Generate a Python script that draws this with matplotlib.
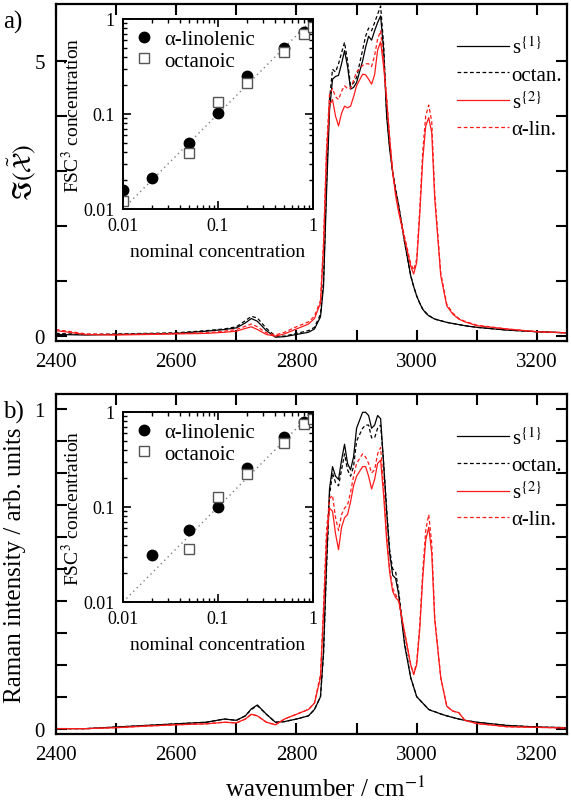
import numpy as np
import matplotlib
matplotlib.use("Agg")
import matplotlib.pyplot as plt
from matplotlib.ticker import NullFormatter, LogLocator

plt.rcParams['font.family'] = ['Liberation Serif', 'DejaVu Serif']
plt.rcParams['mathtext.fontset'] = 'stix'

# --- espectros: rejilla comun de numeros de onda (cm^-1) ---
wn = [2400, 2450, 2500, 2550, 2600, 2650, 2680, 2700, 2715, 2725,
      2735, 2750, 2765, 2780, 2800, 2820, 2830, 2840, 2845, 2850,
      2855, 2860, 2865, 2870, 2875, 2880, 2885, 2890, 2895, 2900,
      2910, 2915, 2920, 2925, 2930, 2935, 2940, 2945, 2950, 2955,
      2960, 2965, 2970, 2980, 2990, 2995, 3000, 3005, 3010, 3015,
      3020, 3025, 3030, 3040, 3050, 3060, 3070, 3080, 3100, 3150,
      3200, 3250]

# panel a)
s1_a = [0.03, 0.02, 0.03, 0.04, 0.05, 0.09, 0.12, 0.15, 0.24, 0.32,
        0.27, 0.10, -0.02, -0.01, 0.03, 0.07, 0.13, 0.35, 0.9, 2.6,
        4.1, 4.67, 4.72, 4.74, 4.95, 5.19, 4.9, 4.49, 4.52, 4.61,
        5.0, 5.25, 5.45, 5.38, 5.55, 5.7, 5.82, 5.2, 4.0, 3.4,
        2.98, 2.65, 2.37, 1.70, 1.10, 0.9, 0.73, 0.6, 0.49, 0.42,
        0.37, 0.34, 0.31, 0.28, 0.25, 0.23, 0.21, 0.19, 0.16, 0.11,
        0.08, 0.06]
oct_a = [0.05, 0.03, 0.04, 0.05, 0.06, 0.10, 0.13, 0.17, 0.28, 0.36,
         0.33, 0.14, 0.0, 0.0, 0.05, 0.10, 0.16, 0.4, 1.0, 2.8,
         4.3, 4.85, 4.8, 4.95, 5.15, 5.34, 5.0, 4.55, 4.6, 4.7,
         5.2, 5.45, 5.6, 5.55, 5.7, 5.85, 6.0, 5.3, 4.05, 3.45,
         3.0, 2.67, 2.38, 1.70, 1.10, 0.9, 0.73, 0.6, 0.49, 0.43,
         0.38, 0.34, 0.31, 0.28, 0.25, 0.23, 0.21, 0.19, 0.16, 0.11,
         0.08, 0.06]
s2_a = [0.10, 0.03, 0.02, 0.03, 0.04, 0.05, 0.07, 0.09, 0.14, 0.17,
        0.12, 0.03, 0.0, 0.04, 0.13, 0.22, 0.32, 0.6, 1.6, 3.3,
        4.2, 4.3, 4.0, 3.82, 4.05, 4.18, 4.15, 4.18, 4.35, 4.55,
        4.76, 4.75, 4.67, 4.58, 4.75, 5.2, 5.35, 4.9, 4.3, 3.6,
        2.98, 2.55, 2.25, 1.76, 1.27, 1.13, 1.34, 2.2, 3.2, 3.82,
        3.97, 3.7, 2.5, 1.1, 0.55, 0.4, 0.31, 0.26, 0.19, 0.13,
        0.08, 0.06]
lin_a = [0.12, 0.04, 0.03, 0.04, 0.05, 0.06, 0.09, 0.12, 0.18, 0.22,
         0.17, 0.06, 0.02, 0.07, 0.17, 0.26, 0.36, 0.65, 1.7, 3.4,
         4.4, 4.5, 4.35, 4.3, 4.45, 4.55, 4.5, 4.5, 4.65, 4.8,
         4.92, 4.95, 4.95, 4.9, 5.1, 5.4, 5.55, 5.0, 4.35, 3.6,
         3.0, 2.6, 2.3, 1.8, 1.32, 1.2, 1.4, 2.3, 3.35, 4.0,
         4.2, 3.9, 2.6, 1.15, 0.58, 0.42, 0.32, 0.27, 0.2, 0.13,
         0.08, 0.06]

# panel b)
s1_b = [0.0, 0.0, 0.005, 0.01, 0.015, 0.02, 0.03, 0.026, 0.04, 0.062,
        0.074, 0.045, 0.02, 0.022, 0.03, 0.04, 0.06, 0.10, 0.24, 0.52,
        0.75, 0.82, 0.79, 0.78, 0.84, 0.89, 0.83, 0.81, 0.85, 0.94,
        0.99, 0.99, 0.98, 0.94, 0.95, 0.98, 0.97, 0.83, 0.68, 0.55,
        0.48, 0.47, 0.42, 0.26, 0.16, 0.13, 0.10, 0.09, 0.08, 0.07,
        0.06, 0.056, 0.053, 0.046, 0.04, 0.035, 0.03, 0.026, 0.02, 0.01,
        0.005, 0.003]
oct_b = [0.0, 0.0, 0.005, 0.01, 0.015, 0.02, 0.03, 0.026, 0.04, 0.06,
         0.072, 0.045, 0.02, 0.022, 0.03, 0.04, 0.06, 0.10, 0.23, 0.50,
         0.73, 0.80, 0.77, 0.76, 0.81, 0.86, 0.81, 0.79, 0.82, 0.90,
         0.94, 0.95, 0.95, 0.91, 0.91, 0.94, 0.95, 0.83, 0.69, 0.56,
         0.50, 0.49, 0.43, 0.27, 0.16, 0.13, 0.10, 0.09, 0.08, 0.07,
         0.06, 0.056, 0.053, 0.046, 0.04, 0.035, 0.03, 0.026, 0.02, 0.01,
         0.005, 0.003]
s2_b = [0.0, 0.0, 0.003, 0.008, 0.012, 0.015, 0.02, 0.018, 0.03, 0.045,
        0.04, 0.02, 0.012, 0.03, 0.045, 0.06, 0.08, 0.16, 0.36, 0.59,
        0.69, 0.68, 0.61, 0.56, 0.63, 0.66, 0.67, 0.71, 0.76, 0.79,
        0.82, 0.82, 0.79, 0.75, 0.78, 0.83, 0.84, 0.73, 0.59, 0.49,
        0.43, 0.41, 0.40, 0.30, 0.20, 0.17, 0.20, 0.31, 0.47, 0.59,
        0.63, 0.55, 0.34, 0.16, 0.07, 0.055, 0.05, 0.026, 0.016, 0.006,
        0.004, 0.002]
lin_b = [0.0, 0.0, 0.003, 0.008, 0.012, 0.015, 0.02, 0.018, 0.03, 0.045,
         0.04, 0.02, 0.012, 0.03, 0.045, 0.06, 0.08, 0.17, 0.38, 0.62,
         0.72, 0.73, 0.66, 0.62, 0.67, 0.69, 0.70, 0.74, 0.79, 0.83,
         0.86, 0.85, 0.83, 0.80, 0.81, 0.86, 0.88, 0.76, 0.61, 0.50,
         0.44, 0.42, 0.40, 0.30, 0.20, 0.17, 0.21, 0.32, 0.49, 0.62,
         0.67, 0.58, 0.35, 0.16, 0.07, 0.055, 0.05, 0.026, 0.016, 0.006,
         0.004, 0.002]

# --- insets: concentracion nominal vs FSC^3 ---
lin_x_a = [0.01, 0.02, 0.05, 0.1, 0.2, 0.5, 0.8, 1.0]
lin_y_a = [0.016, 0.021, 0.049, 0.102, 0.25, 0.49, 0.73, 0.97]
oct_x_a = [0.01, 0.05, 0.1, 0.2, 0.5, 0.8, 1.0]
oct_y_a = [0.012, 0.039, 0.133, 0.21, 0.45, 0.70, 0.82]

lin_x_b = [0.02, 0.05, 0.1, 0.2, 0.5, 0.8, 1.0]
lin_y_b = [0.031, 0.057, 0.10, 0.26, 0.55, 0.79, 0.95]
oct_x_b = [0.05, 0.1, 0.2, 0.5, 0.8, 1.0]
oct_y_b = [0.036, 0.126, 0.22, 0.47, 0.75, 0.85]

diag = [0.01, 1.0]

labels = [r's$^{\{1\}}$', 'octan.', r's$^{\{2\}}$', 'α-lin.']
rojo = '#ff1a1a'


def panel(ax, s1, oc, s2, li):
    ax.plot(wn, s1, color='black', lw=0.9, label=labels[0])
    ax.plot(wn, oc, color='black', lw=0.9, ls=(0, (3, 2)), label=labels[1])
    ax.plot(wn, s2, color=rojo, lw=0.9, label=labels[2])
    ax.plot(wn, li, color=rojo, lw=0.9, ls=(0, (3, 2)), label=labels[3])
    ax.set_xlim(2400, 3250)
    ax.set_xticks(np.arange(2400, 3300, 100))
    ax.set_xticklabels(['2400', '', '2600', '', '2800', '', '3000', '', '3200'])
    ax.tick_params(direction='in', top=True, right=True, length=8, width=1.5,
                   labelsize=15, pad=8)
    for sp in ax.spines.values():
        sp.set_linewidth(1.6)
    ax.legend(loc='upper right', bbox_to_anchor=(1.015, 0.94), frameon=False,
              fontsize=15, handlelength=2.5, handletextpad=0.1,
              labelspacing=0.32, borderaxespad=0.2)


def inset(ax, lx, ly, ox, oy):
    ax.plot(diag, diag, color='gray', lw=1, ls=(0, (1, 2.5)))
    ax.plot(lx, ly, 'o', color='black', ms=7.5, label='α-linolenic')
    ax.plot(ox, oy, 's', mfc='white', mec='#555555', mew=1, ms=6.5,
            label='octanoic')
    ax.set_xscale('log')
    ax.set_yscale('log')
    ax.set_xlim(0.01, 1)
    ax.set_ylim(0.01, 1)
    ax.set_xticks([0.01, 0.1, 1])
    ax.set_xticklabels(['0.01', '0.1', '1'])
    ax.set_yticks([0.01, 0.1, 1])
    ax.set_yticklabels(['0.01', '0.1', '1'])
    ax.xaxis.set_minor_locator(LogLocator(subs=np.arange(2, 10)))
    ax.yaxis.set_minor_locator(LogLocator(subs=np.arange(2, 10)))
    ax.xaxis.set_minor_formatter(NullFormatter())
    ax.yaxis.set_minor_formatter(NullFormatter())
    ax.tick_params(which='both', direction='in', top=True, right=True,
                   labelsize=13)
    ax.tick_params(which='major', length=6, width=1.2, pad=6)
    ax.tick_params(which='minor', length=3, width=1)
    for sp in ax.spines.values():
        sp.set_linewidth(1.4)
    ax.set_xlabel('nominal concentration', fontsize=14, labelpad=6)
    ax.set_ylabel(r'FSC$^3$ concentration', fontsize=14, labelpad=0)
    ax.legend(loc='upper left', frameon=False, fontsize=15, handlelength=1.0,
              handletextpad=0.5, labelspacing=0.1, borderaxespad=0.2,
              borderpad=0.3)


fig = plt.figure(figsize=(5.71, 8.03), dpi=100)

ax_a = fig.add_axes([0.098, 0.574, 0.895, 0.42])
panel(ax_a, s1_a, oct_a, s2_a, lin_a)
ax_a.set_ylim(-0.09, 6.04)
ax_a.set_yticks(np.arange(0, 6, 1))
ax_a.set_yticklabels(['0', '', '', '', '', '5'])

ax_b = fig.add_axes([0.098, 0.085, 0.895, 0.423])
panel(ax_b, s1_b, oct_b, s2_b, lin_b)
ax_b.set_ylim(-0.016, 1.047)
ax_b.set_yticks(np.arange(0, 1.05, 0.1))
ax_b.set_yticklabels(['0'] + [''] * 9 + ['1'])

# etiquetas de ejes colocadas a mano
fig.text(22 / 571, 1 - 173 / 803, r'$\Im(\tilde{\mathcal{X}})$', fontsize=19,
         rotation=90, ha='center', va='center')
fig.text(15 / 571, 1 - 565 / 803, 'Raman intensity / arb. units', fontsize=18,
         rotation=90, ha='center', va='center')
fig.text(325 / 571, 1 - 789 / 803, r'wavenumber / cm$^{-1}$', fontsize=18,
         ha='center', va='center')

fig.text(0.005, 1 - 22 / 803, 'a)', fontsize=18, va='center')
fig.text(0.005, 1 - 412 / 803, 'b)', fontsize=18, va='center')

in_a = fig.add_axes([0.2154, 0.7385, 0.3327, 0.2366])
inset(in_a, lin_x_a, lin_y_a, oct_x_a, oct_y_a)
in_b = fig.add_axes([0.2154, 0.2491, 0.3327, 0.2366])
inset(in_b, lin_x_b, lin_y_b, oct_x_b, oct_y_b)

fig.savefig('out.png', dpi=100)
